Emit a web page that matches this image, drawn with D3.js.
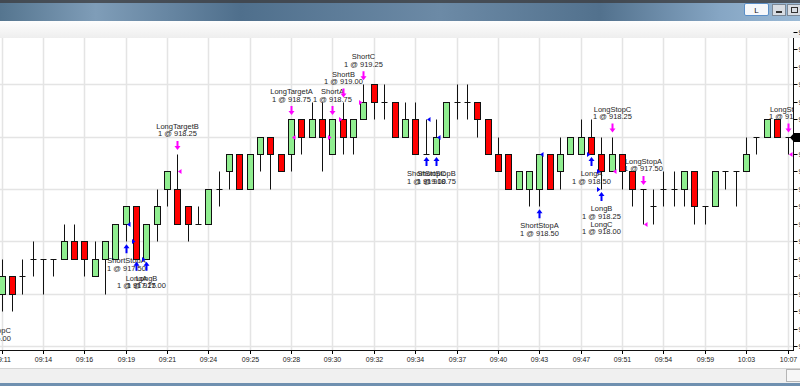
<!DOCTYPE html>
<meta charset="utf-8">
<style>
  body { margin: 0; background: #fff; }
  svg { display: block; font-family: "Liberation Sans", Arial, sans-serif; }
  .lbl { font-size: 7.5px; fill: #1e1e1e; }
</style>
<body>
<div id="chart"></div>
<script src="https://d3js.org/d3.v7.min.js"></script>
<script>

  // bars start one bar before the left edge (index -1 is scrolled off)
  const firstBar = -1;
  const opens  = [916.50, 916.50, 916.75, 916.75, 917.00, 917.00, 917.00, 917.00, 917.25, 917.25, 916.75,
                  917.00, 917.00, 917.50, 917.75, 917.00, 917.50, 918.00, 918.00, 917.75, 917.50,
                  917.50, 918.00, 918.25, 918.50, 918.00, 918.50, 918.75, 918.50, 918.50, 919.00,
                  918.75, 919.00, 918.50, 919.00, 918.75, 919.00, 919.50, 919.25, 919.25, 918.75,
                  919.00, 918.50, 918.50, 918.75, 919.25, 919.25, 919.25, 919.00, 918.50, 918.50,
                  918.00, 918.00, 918.00, 918.50, 918.25, 918.50, 918.50, 918.75, 918.50, 918.25,
                  918.50, 918.25, 918.00, 917.75, 918.00, 918.00, 918.00, 918.25, 917.75, 917.75,
                  918.25, 918.25, 918.25, 918.75, 918.75, 919.00, 918.75];
  const highs  = [916.75, 917.00, 916.75, 917.00, 917.25, 917.00, 917.00, 917.50, 917.50, 917.25, 917.25,
                  917.25, 917.50, 917.75, 917.75, 917.50, 918.00, 918.25, 918.50, 917.75, 917.75,
                  918.00, 918.25, 918.50, 918.50, 918.50, 918.75, 918.75, 918.50, 919.00, 919.00,
                  919.25, 919.25, 919.00, 919.25, 919.00, 919.50, 919.50, 919.50, 919.25, 919.25,
                  919.25, 919.00, 919.00, 919.25, 919.50, 919.50, 919.25, 919.00, 918.75, 918.50,
                  918.25, 918.25, 918.50, 918.50, 918.75, 918.75, 919.00, 919.00, 918.75, 918.75,
                  918.50, 918.25, 918.00, 918.00, 918.25, 918.25, 918.25, 918.25, 917.75, 918.25,
                  918.25, 918.25, 918.75, 918.75, 919.00, 919.00, 918.75];
  const lows   = [916.25, 916.25, 916.25, 916.50, 916.75, 916.50, 916.75, 917.00, 917.00, 916.75, 916.75,
                  916.50, 917.00, 917.25, 917.00, 917.00, 917.25, 917.75, 917.50, 917.25, 917.50,
                  917.50, 917.75, 918.00, 918.00, 918.00, 918.25, 918.00, 918.25, 918.25, 918.50,
                  918.75, 918.25, 918.50, 918.50, 918.50, 919.00, 919.00, 919.00, 918.75, 918.75,
                  918.50, 918.50, 918.50, 918.75, 919.00, 919.00, 918.75, 918.50, 918.25, 918.00,
                  918.00, 917.75, 917.75, 918.00, 918.00, 918.50, 918.50, 918.50, 918.00, 918.25,
                  918.00, 917.75, 917.50, 917.50, 917.75, 917.75, 917.75, 917.50, 917.50, 917.75,
                  918.00, 917.75, 918.25, 918.50, 918.75, 918.75, 918.50];
  const closes = [916.50, 916.75, 916.50, 916.75, 917.00, 917.00, 917.00, 917.25, 917.00, 917.00, 917.00,
                  917.25, 917.50, 917.75, 917.00, 917.50, 917.75, 918.25, 917.50, 917.50, 917.50,
                  918.00, 918.00, 918.50, 918.00, 918.50, 918.75, 918.50, 918.25, 919.00, 918.75,
                  919.00, 918.75, 919.00, 918.75, 919.00, 919.25, 919.25, 919.25, 918.75, 919.00,
                  918.50, 918.50, 918.75, 919.25, 919.25, 919.25, 919.00, 918.50, 918.25, 918.00,
                  918.25, 918.25, 918.50, 918.00, 918.50, 918.75, 918.75, 918.50, 918.25, 918.50,
                  918.25, 918.00, 918.00, 917.75, 918.00, 918.00, 918.25, 917.75, 917.75, 918.25,
                  918.25, 918.25, 918.50, 918.75, 919.00, 918.75, 918.75];

  const timeLabels = ["09:11", "09:14", "09:16", "09:19", "09:21", "09:24", "09:25", "09:28", "09:30", "09:32",
                      "09:34", "09:37", "09:40", "09:43", "09:47", "09:51", "09:54", "09:59", "10:03", "10:07"];
  const labelEvery = 4;

  // executions: bar, buy/sell, name, fill price, entry (marker left) or exit (marker right)
  const execBars   = [-1, 12, 13, 14, 17, 28, 32, 33, 35, 41, 42, 52, 57, 58, 58, 59, 62, 76];
  const execSides  = ["buy", "buy", "buy", "buy", "sell", "sell", "sell", "sell", "sell", "buy", "buy", "buy",
                      "buy", "buy", "buy", "sell", "sell", "sell"];
  const execNames  = ["ShortStopC", "ShortStopA", "LongA", "LongB", "LongTargetB", "LongTargetA", "ShortA",
                      "ShortB", "ShortC", "ShortStopC", "ShortStopB", "ShortStopA", "LongA", "LongB", "LongC",
                      "LongStopC", "LongStopA", "LongStopB"];
  const execPrices = [916.00, 917.50, 917.25, 917.00, 918.25, 918.75, 918.75, 919.00, 919.25, 919.00, 918.75,
                      918.50, 918.50, 918.25, 918.00, 918.25, 917.50, 918.50];
  const execEntry  = [false, false, true, true, false, false, true, true, true, false, false, false,
                      true, true, true, false, false, false];

  const priceTicks = d3.range(915.75, 920.26, 0.25);
  const priceGrid = d3.range(915.75, 920.26, 0.75);

  const W = 800, H = 386;
  const plot = {left: 0, right: 793, top: 38, bottom: 350};

  const bars = opens.map((o, k) => ({i: firstBar + k, o: o, h: highs[k], l: lows[k], c: closes[k]}));

  const x = d3.scaleLinear().domain([0, 76]).range([1.5, 787.5]);
  const y = d3.scaleLinear().domain([915.75, 918.75]).range([346, 136.5]);
  const px = v => Math.round(x(v));
  const py = v => Math.round(y(v)) + 0.5;

  const svg = d3.select("#chart").append("svg").attr("width", W).attr("height", H);
  const defs = svg.append("defs");

  // window chrome
  const tg = defs.append("linearGradient").attr("id", "title").attr("x1", 0).attr("x2", 1);
  [["0", "#55758f"], ["0.12", "#7f9db8"], ["0.3", "#4f6f8c"], ["0.55", "#6c8aa6"], ["0.75", "#52718d"],
   ["0.9", "#86a6c4"], ["1", "#9bbad6"]].forEach(s => tg.append("stop").attr("offset", s[0]).attr("stop-color", s[1]));
  const tb = defs.append("linearGradient").attr("id", "tool").attr("x1", 0).attr("x2", 0).attr("y1", 0).attr("y2", 1);
  tb.append("stop").attr("offset", 0).attr("stop-color", "#fdfdfd");
  tb.append("stop").attr("offset", 1).attr("stop-color", "#eeeeee");

  svg.append("rect").attr("width", W).attr("height", 21).attr("fill", "url(#title)");
  svg.append("rect").attr("width", W).attr("height", 3).attr("fill", "#3d3f42").attr("opacity", 0.8);
  svg.append("rect").attr("y", 21).attr("width", W).attr("height", 17).attr("fill", "url(#tool)");
  svg.append("rect").attr("x", 744.5).attr("y", 3.5).attr("width", 24).attr("height", 12).attr("rx", 1.5)
    .attr("fill", "#f6f8fb").attr("stroke", "#5b8fc7");
  svg.append("text").attr("x", 756.5).attr("y", 13).attr("text-anchor", "middle")
    .attr("font-size", 8).attr("fill", "#111").text("L");
  svg.append("rect").attr("x", 772.5).attr("y", 4.5).attr("width", 13).attr("height", 11)
    .attr("fill", "#d8dde3").attr("stroke", "#7b8896");
  svg.append("rect").attr("x", 776).attr("y", 11).attr("width", 6).attr("height", 2).attr("fill", "#333");
  svg.append("rect").attr("x", 787.5).attr("y", 4.5).attr("width", 14).attr("height", 11)
    .attr("fill", "#d8dde3").attr("stroke", "#7b8896");
  svg.append("rect").attr("x", 791.5).attr("y", 7.5).attr("width", 6).attr("height", 5)
    .attr("fill", "none").attr("stroke", "#333");

  // bottom strip
  svg.append("rect").attr("y", 368).attr("width", W).attr("height", 15).attr("fill", "#f0f0f0");
  svg.append("line").attr("x1", 0).attr("x2", W).attr("y1", 368.5).attr("y2", 368.5).attr("stroke", "#d4d4d4");
  svg.append("rect").attr("x", 786.5).attr("y", 369.5).attr("width", 14).attr("height", 12)
    .attr("fill", "#f7f7f7").attr("stroke", "#b5b5b5");
  svg.append("rect").attr("y", 383).attr("width", W).attr("height", 3).attr("fill", "#6f90b0");

  // plot area
  defs.append("clipPath").attr("id", "clip").append("rect")
    .attr("x", plot.left).attr("y", plot.top).attr("width", plot.right - plot.left).attr("height", plot.bottom - plot.top);
  const g = svg.append("g").attr("clip-path", "url(#clip)");

  g.selectAll(".hgrid").data(priceGrid).enter().append("line")
    .attr("x1", 0).attr("x2", plot.right).attr("y1", d => py(d)).attr("y2", d => py(d))
    .attr("stroke", "#e4e4e4").attr("stroke-width", 1.5);
  const tickIdx = timeLabels.map((t, k) => k * labelEvery);
  g.selectAll(".vgrid").data(tickIdx).enter().append("line")
    .attr("x1", d => px(d) + 0.5).attr("x2", d => px(d) + 0.5).attr("y1", plot.top).attr("y2", plot.bottom)
    .attr("stroke", "#e4e4e4").attr("stroke-width", 1.5);

  // candles
  const cg = g.selectAll(".bar").data(bars).enter().append("g");
  cg.append("line")
    .attr("x1", d => px(d.i) + 0.5).attr("x2", d => px(d.i) + 0.5)
    .attr("y1", d => py(d.h)).attr("y2", d => py(d.l))
    .attr("stroke", "#111").attr("stroke-width", 1);
  cg.filter(d => d.o !== d.c).append("rect")
    .attr("x", d => px(d.i) - 2.5).attr("width", 6)
    .attr("y", d => py(Math.max(d.o, d.c))).attr("height", d => py(Math.min(d.o, d.c)) - py(Math.max(d.o, d.c)))
    .attr("fill", d => d.c > d.o ? "#90ee90" : "#ff0000")
    .attr("stroke", "#111").attr("stroke-width", 1);
  cg.filter(d => d.o === d.c).append("line")
    .attr("x1", d => px(d.i) - 2.5).attr("x2", d => px(d.i) + 3.5)
    .attr("y1", d => py(d.c)).attr("y2", d => py(d.c))
    .attr("stroke", "#111").attr("stroke-width", 1);

  // executions
  const barAt = i => bars.find(b => b.i === i);
  const stack = {};
  const execs = execBars.map((b, k) => {
    const key = b + execSides[k];
    const n = stack[key] || 0;
    stack[key] = n + 1;
    return {bar: b, side: execSides[k], name: execNames[k], price: execPrices[k], entry: execEntry[k], n: n};
  });

  execs.forEach(e => {
    const b = barAt(e.bar);
    const cx = px(e.bar) + 0.5;
    const buy = e.side === "buy";
    const col = buy ? "#0000ff" : "#ff00ff";
    // fill marker
    const yp = py(e.price);
    const tri = e.entry
      ? [[cx - 1, yp], [cx - 4.5, yp - 2.5], [cx - 4.5, yp + 2.5]]
      : [[cx + 0.5, yp], [cx + 4, yp - 2.5], [cx + 4, yp + 2.5]];
    g.append("path").attr("d", "M" + tri.join("L") + "Z").attr("fill", col);
    if (e.n > 0) {
      // further executions on the same bar only add a label line
      const by = y(b.l) + 22 + e.n * 15.7;
      g.append("text").attr("class", "lbl").attr("x", cx).attr("y", by).attr("text-anchor", "middle").text(e.name);
      g.append("text").attr("class", "lbl").attr("x", cx).attr("y", by + 7.7).attr("text-anchor", "middle").text("1 @ " + e.price.toFixed(2));
      return;
    }
    if (buy) {
      const t = y(b.l) + 3;
      g.append("path").attr("fill", col).attr("d",
        `M${cx},${t}L${cx + 3},${t + 4}L${cx + 1},${t + 4}L${cx + 1},${t + 9}L${cx - 1},${t + 9}L${cx - 1},${t + 4}L${cx - 3},${t + 4}Z`);
      g.append("text").attr("class", "lbl").attr("x", cx).attr("y", y(b.l) + 22).attr("text-anchor", "middle").text(e.name);
      g.append("text").attr("class", "lbl").attr("x", cx).attr("y", y(b.l) + 29.7).attr("text-anchor", "middle").text("1 @ " + e.price.toFixed(2));
    } else {
      const t = y(b.h) - 4;
      g.append("path").attr("fill", col).attr("d",
        `M${cx},${t}L${cx + 3},${t - 4}L${cx + 1},${t - 4}L${cx + 1},${t - 9}L${cx - 1},${t - 9}L${cx - 1},${t - 4}L${cx - 3},${t - 4}Z`);
      g.append("text").attr("class", "lbl").attr("x", cx).attr("y", y(b.h) - 25).attr("text-anchor", "middle").text(e.name);
      g.append("text").attr("class", "lbl").attr("x", cx).attr("y", y(b.h) - 17.5).attr("text-anchor", "middle").text("1 @ " + e.price.toFixed(2));
    }
  });

  // axes
  const xAxis = svg.append("g").attr("transform", `translate(0,${plot.bottom})`)
    .call(d3.axisBottom(x).tickValues(tickIdx).tickSize(4).tickSizeOuter(0)
      .tickFormat((d, k) => timeLabels[k]));
  xAxis.select(".domain").remove();
  xAxis.selectAll(".tick").attr("transform", d => `translate(${px(d) + 0.5},0)`);
  xAxis.selectAll("text").attr("font-size", 7).attr("fill", "#222");
  svg.append("line").attr("x1", 0).attr("x2", plot.right).attr("y1", plot.bottom + 0.5).attr("y2", plot.bottom + 0.5)
    .attr("stroke", "#111");

  const yAxis = svg.append("g").attr("transform", `translate(${plot.right + 0.5},0)`)
    .call(d3.axisRight(y).tickValues(priceTicks).tickSize(4).tickSizeOuter(0).tickFormat(d3.format(".2f")));
  yAxis.select(".domain").remove();
  yAxis.selectAll(".tick").attr("transform", d => `translate(0,${py(d)})`);
  yAxis.selectAll("text").attr("font-size", 7).attr("fill", "#222").attr("x", 5);
  svg.append("line").attr("x1", plot.right + 0.5).attr("x2", plot.right + 0.5).attr("y1", plot.top).attr("y2", plot.bottom + 1)
    .attr("stroke", "#111");

  // last price marker
  const lp = py(closes[closes.length - 1]);
  svg.append("path").attr("fill", "#000")
    .attr("d", `M790,${lp}L794,${lp - 4.5}L800,${lp - 4.5}L800,${lp + 4.5}L794,${lp + 4.5}Z`);

</script>
</body>
